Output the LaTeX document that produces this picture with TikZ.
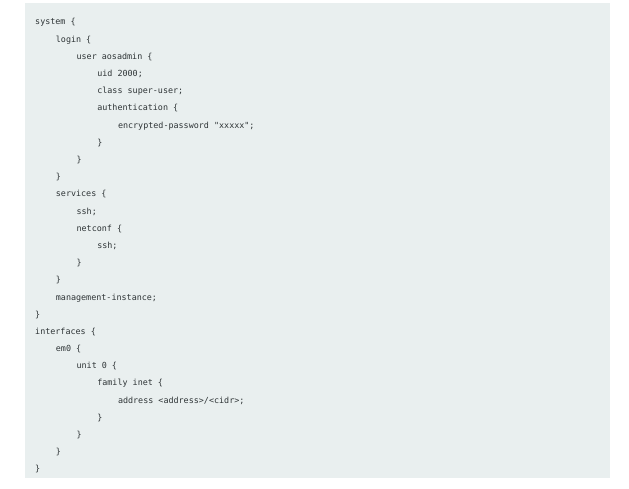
\documentclass[tikz,border=0pt]{standalone}
\usepackage{fontspec}
\setmonofont{DejaVu Sans Mono}
\definecolor{codebg}{HTML}{E9EFEF}
\definecolor{codefg}{HTML}{2E3436}
\tikzset{
  codeline/.style={anchor=base west, inner sep=0, text=codefg, font=\ttfamily\fontsize{8.4}{10}\selectfont},
}
\newcommand{\ind}{20.7}
\newcommand{\gap}{17.19}
\begin{document}
\begin{tikzpicture}[x=1pt,y=-1pt]
\useasboundingbox (0,0) rectangle (629,489);
\fill[codebg] (25,3) rectangle (610,478);
% code lines: level, row
\node[codeline] (l1)  at (35+0*\ind,25+0*\gap)  {system \{};
\node[codeline] (l2)  at (35+1*\ind,25+1*\gap)  {login \{};
\node[codeline] (l3)  at (35+2*\ind,25+2*\gap)  {user aosadmin \{};
\node[codeline] (l4)  at (35+3*\ind,25+3*\gap)  {uid 2000;};
\node[codeline] (l5)  at (35+3*\ind,25+4*\gap)  {class super-user;};
\node[codeline] (l6)  at (35+3*\ind,25+5*\gap)  {authentication \{};
\node[codeline] (l7)  at (35+4*\ind,25+6*\gap)  {encrypted-password "xxxxx";};
\node[codeline] (l8)  at (35+3*\ind,25+7*\gap)  {\}};
\node[codeline] (l9)  at (35+2*\ind,25+8*\gap)  {\}};
\node[codeline] (l10) at (35+1*\ind,25+9*\gap)  {\}};
\node[codeline] (l11) at (35+1*\ind,25+10*\gap) {services \{};
\node[codeline] (l12) at (35+2*\ind,25+11*\gap) {ssh;};
\node[codeline] (l13) at (35+2*\ind,25+12*\gap) {netconf \{};
\node[codeline] (l14) at (35+3*\ind,25+13*\gap) {ssh;};
\node[codeline] (l15) at (35+2*\ind,25+14*\gap) {\}};
\node[codeline] (l16) at (35+1*\ind,25+15*\gap) {\}};
\node[codeline] (l17) at (35+1*\ind,25+16*\gap) {management-instance;};
\node[codeline] (l18) at (35+0*\ind,25+17*\gap) {\}};
\node[codeline] (l19) at (35+0*\ind,25+18*\gap) {interfaces \{};
\node[codeline] (l20) at (35+1*\ind,25+19*\gap) {em0 \{};
\node[codeline] (l21) at (35+2*\ind,25+20*\gap) {unit 0 \{};
\node[codeline] (l22) at (35+3*\ind,25+21*\gap) {family inet \{};
\node[codeline] (l23) at (35+4*\ind,25+22*\gap) {address <address>/<cidr>;};
\node[codeline] (l24) at (35+3*\ind,25+23*\gap) {\}};
\node[codeline] (l25) at (35+2*\ind,25+24*\gap) {\}};
\node[codeline] (l26) at (35+1*\ind,25+25*\gap) {\}};
\node[codeline] (l27) at (35+0*\ind,25+26*\gap) {\}};
\end{tikzpicture}
\end{document}
